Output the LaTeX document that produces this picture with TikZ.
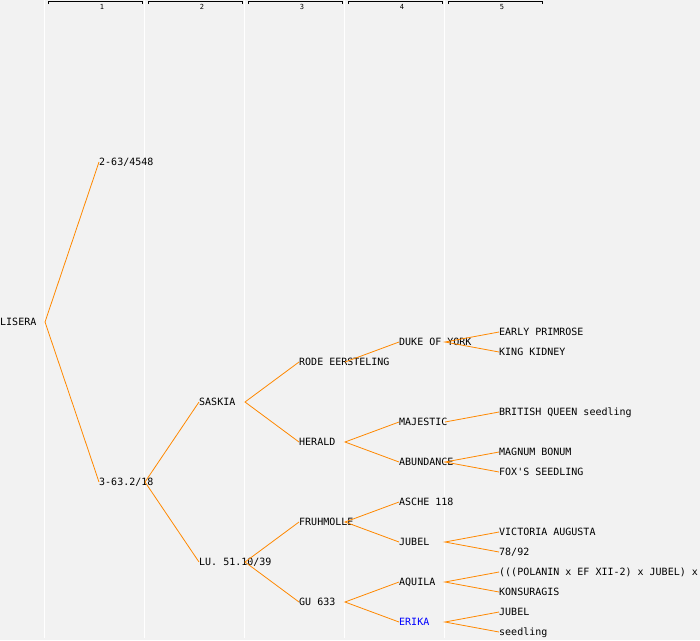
\documentclass[tikz,border=0pt]{standalone}
\usepackage{fontspec}
\setmonofont{DejaVu Sans Mono}
\usepackage{tikz}
\usetikzlibrary{positioning}
\definecolor{bgray}{HTML}{F2F2F2}
\definecolor{linkorange}{HTML}{FF8800}
\definecolor{erikablue}{HTML}{0000FF}
\tikzstyle{pnode} = [anchor=west,inner sep=0pt,text height=8pt,text depth=1.5pt,font=\ttfamily\fontsize{10}{12}\selectfont]
\tikzstyle{link} = [linkorange,line width=0.8pt]
\tikzstyle{sep} = [white,line width=1.4pt]
\tikzstyle{genlabel} = [inner sep=0pt,font=\ttfamily\fontsize{7}{8}\selectfont]

\begin{document}
\begin{tikzpicture}[x=1pt,y=-1pt]
            \useasboundingbox (0,0) rectangle (700,640);
            \fill[bgray] (0,0) rectangle (700,640);
            \clip (0,0) rectangle (700,640);
            % generation columns
            \foreach \g in {1,...,5} {
                \coordinate (c\g) at ({45+100*(\g-1)},0);
                \draw[sep] ([xshift=-0.5pt]c\g) -- ++(0,638);
                \draw[black,line width=1pt] ([xshift=3pt,yshift=-4pt]c\g) -- ++(0,-2.5) -- ++(94.5,0) -- ++(0,2.5);
                \node[genlabel] (gl\g) at ({102+100*(\g-1)},6.5) {\g};
            }
            % pedigree
            \node[pnode] (lisera) at (0,322) {LISERA};
            \node[pnode] (p263) at (99,162) {2-63/4548};
            \node[pnode] (p363) at (99,482) {3-63.2/18};
            \node[pnode] (saskia) at (199,402) {SASKIA};
            \node[pnode] (lu) at (199,562) {LU. 51.10/39};
            \node[pnode] (rode) at (299,362) {RODE EERSTELING};
            \node[pnode] (herald) at (299,442) {HERALD};
            \node[pnode] (fruh) at (299,522) {FRUHMOLLE};
            \node[pnode] (gu) at (299,602) {GU 633};
            \node[pnode] (duke) at (399,342) {DUKE OF YORK};
            \node[pnode] (majestic) at (399,422) {MAJESTIC};
            \node[pnode] (abund) at (399,462) {ABUNDANCE};
            \node[pnode] (asche) at (399,502) {ASCHE 118};
            \node[pnode] (jubel) at (399,542) {JUBEL};
            \node[pnode] (aquila) at (399,582) {AQUILA};
            \node[pnode,erikablue] (erika) at (399,622) {ERIKA};
            \node[pnode] (early) at (499,332) {EARLY PRIMROSE};
            \node[pnode] (king) at (499,352) {KING KIDNEY};
            \node[pnode] (british) at (499,412) {BRITISH QUEEN seedling};
            \node[pnode] (magnum) at (499,452) {MAGNUM BONUM};
            \node[pnode] (fox) at (499,472) {FOX'S SEEDLING};
            \node[pnode] (victoria) at (499,532) {VICTORIA AUGUSTA};
            \node[pnode] (n7892) at (499,552) {78/92};
            \node[pnode] (polanin) at (499,572) {(((POLANIN x EF XII-2) x JUBEL) x};
            \node[pnode] (konsur) at (499,592) {KONSURAGIS};
            \node[pnode] (jubelb) at (499,612) {JUBEL};
            \node[pnode] (seedl) at (499,632) {seedling};

            \draw[link] (p263.west) -- (lisera -| c1) -- (p363.west);
            \draw[link] (saskia.west) -- (p363 -| c2) -- (lu.west);
            \draw[link] (rode.west) -- (saskia -| c3) -- (herald.west);
            \draw[link] (fruh.west) -- (lu -| c3) -- (gu.west);
            \draw[link] (rode -| c4) -- (duke.west);
            \draw[link] (majestic.west) -- (herald -| c4) -- (abund.west);
            \draw[link] (asche.west) -- (fruh -| c4) -- (jubel.west);
            \draw[link] (aquila.west) -- (gu -| c4) -- (erika.west);
            \draw[link] (early.west) -- (duke -| c5) -- (king.west);
            \draw[link] (majestic -| c5) -- (british.west);
            \draw[link] (magnum.west) -- (abund -| c5) -- (fox.west);
            \draw[link] (victoria.west) -- (jubel -| c5) -- (n7892.west);
            \draw[link] (polanin.west) -- (aquila -| c5) -- (konsur.west);
            \draw[link] (jubelb.west) -- (erika -| c5) -- (seedl.west);
        \end{tikzpicture}
\end{document}
